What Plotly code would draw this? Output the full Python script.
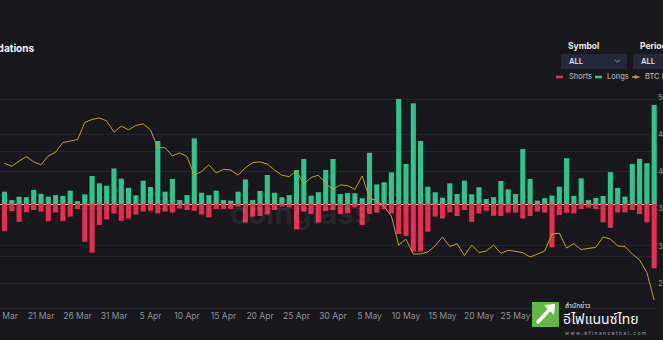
import plotly.graph_objects as go
import pandas as pd

# ---------------- data ----------------
start_date = "2022-03-16"
n_days = 90
dates = pd.date_range(start_date, periods=n_days, freq="D")

# long liquidations (million USD)
longs_musd = [
    47, 15, 28, 26, 54, 39, 28, 34, 31, 51,
    11, 37, 107, 79, 70, 136, 97, 62, 33, 89,
    65, 241, 47, 96, 15, 34, 251, 43, 34, 51,
    15, 13, 47, 94, 15, 50, 111, 43, 26, 34,
    130, 172, 32, 45, 130, 172, 38, 42, 41, 22,
    196, 75, 83, 121, 402, 153, 385, 241, 66, 45,
    24, 79, 38, 89, 37, 64, 19, 26, 88, 56,
    38, 210, 96, 13, 22, 32, 66, 175, 31, 98,
    15, 23, 31, 122, 61, 28, 153, 173, 156, 379,
]

# short liquidations (million USD, magnitude)
shorts_musd = [
    103, 27, 68, 32, 23, 29, 65, 32, 65, 48,
    19, 144, 186, 80, 59, 36, 64, 55, 40, 29,
    26, 36, 29, 33, 17, 23, 26, 40, 51, 19,
    19, 19, 10, 71, 48, 46, 40, 23, 10, 13,
    97, 29, 38, 71, 26, 23, 38, 36, 13, 80,
    38, 33, 19, 36, 115, 122, 182, 182, 106, 48,
    55, 32, 46, 23, 68, 36, 26, 45, 46, 33,
    33, 55, 46, 29, 33, 166, 42, 33, 36, 19,
    14, 19, 70, 91, 32, 32, 23, 38, 70, 246,
]

# BTC price (USD)
btc_price = [
    41100, 40700, 41400, 42000, 41300, 40900, 42100, 42600, 43900, 44100,
    44300, 46600, 47000, 47200, 46800, 45300, 46100, 45600, 46200, 46400,
    45600, 43200, 43200, 42100, 42500, 42000, 39500, 40000, 40900, 39800,
    40300, 40200, 39500, 40500, 41200, 41300, 41000, 40200, 39500, 39300,
    40100, 38300, 39200, 39500, 38400, 37600, 38200, 38100, 37600, 39400,
    36400, 36100, 35300, 34000, 30100, 30900, 28900, 28900, 29200, 30000,
    31200, 29900, 30300, 28700, 30100, 29100, 29300, 30100, 29000, 29400,
    29300, 29100, 28500, 28900, 29300, 31600, 31700, 29700, 30300, 29500,
    29700, 29800, 31200, 30900, 30000, 29900, 28900, 28100, 26400, 22700,
]

# visible date tick labels (later ones are hidden behind the logo)
date_ticks = ["2022-03-16", "2022-03-21", "2022-03-26", "2022-03-31", "2022-04-05",
              "2022-04-10", "2022-04-15", "2022-04-20", "2022-04-25", "2022-04-30",
              "2022-05-05", "2022-05-10", "2022-05-15", "2022-05-20", "2022-05-25"]
date_tick_labels = ["16 Mar", "21 Mar", "26 Mar", "31 Mar", "5 Apr",
                    "10 Apr", "15 Apr", "20 Apr", "25 Apr", "30 Apr",
                    "5 May", "10 May", "15 May", "20 May", "25 May"]
liq_ticks = [-400, -200, 0, 200, 400]
price_ticks = [25000, 30000, 35000, 40000, 45000, 50000]

# ---------------- style ----------------
BG = "#18181c"
RED = "#e72d52"
GREEN = "#2fc48c"
GOLD = "#c49a2c"
GRID = "#25252b"
TICK = "#8e8e96"
FONT = "Inter, Roboto, sans-serif"

W, H = 663, 340
L, R, T, B = 0, 6, 97, 32
PW, PH = W - L - R, H - T - B


def px(x):
    return (x - L) / PW


def py(y):
    return (H - B - y) / PH


x0 = pd.Timestamp(start_date) - pd.Timedelta(days=0.616)
x1 = x0 + pd.Timedelta(days=PW / 7.3)

fig = go.Figure()
fig.add_bar(x=dates, y=[-v for v in shorts_musd], name="Shorts",
            marker=dict(color=RED, line=dict(width=0)))
fig.add_bar(x=dates, y=longs_musd, name="Longs",
            marker=dict(color=GREEN, line=dict(width=0)))
fig.add_scatter(x=dates, y=btc_price, name="BTC Price", yaxis="y2",
                mode="lines", line=dict(color=GOLD, width=1))

fig.update_layout(
    width=W, height=H,
    margin=dict(l=L, r=R, t=T, b=B, pad=0, autoexpand=False),
    paper_bgcolor=BG, plot_bgcolor=BG,
    barmode="relative", bargap=0.3,
    showlegend=False,
    font=dict(family=FONT, color=TICK, size=9),
    xaxis=dict(
        type="date", range=[x0, x1], automargin=False,
        tickmode="array", tickvals=date_ticks, ticktext=date_tick_labels,
        ticklabeloverflow="allow",
        showgrid=False, zeroline=False,
        showline=True, linecolor=GRID, linewidth=1,
        ticks="", tickfont=dict(size=8.5, color=TICK),
    ),
    yaxis=dict(
        range=[-397.7, 409.2], tickvals=liq_ticks, automargin=False,
        showticklabels=False, ticks="",
        showgrid=True, gridcolor=GRID, gridwidth=1,
        zeroline=True, zerolinecolor="#d8cfc6", zerolinewidth=1,
    ),
    yaxis2=dict(
        overlaying="y", side="right", automargin=False,
        range=[21640, 50020], tickvals=price_ticks,
        tickprefix="$", tickformat=",", ticklabeloverflow="allow",
        showgrid=True, gridcolor=GRID, gridwidth=1,
        zeroline=False, ticks="",
        tickfont=dict(size=8, color=TICK),
    ),
)

shapes = []
annotations = []

# title (cropped on the left)
annotations.append(dict(text="<b>Liquidations</b>", x=px(36), y=py(48),
                        xref="paper", yref="paper", xanchor="right", yanchor="middle",
                        showarrow=False, font=dict(size=10, color="#f2f2f2", family=FONT)))

# coinglass watermark
annotations.append(dict(text="<b>coinglass</b>", x=px(300), y=py(213),
                        xref="paper", yref="paper", xanchor="center", yanchor="middle",
                        showarrow=False,
                        font=dict(size=30, color="rgba(255,255,255,0.07)", family=FONT)))

# dropdown selectors
for label, bx0, bx1, tx in [("Symbol", 561, 627, 566), ("Period", 633, 700, 638)]:
    annotations.append(dict(text="<b>%s</b>" % label, x=px(tx), y=py(46),
                            xref="paper", yref="paper", xanchor="left", yanchor="middle",
                            showarrow=False, font=dict(size=8.5, color="#eeeeee", family=FONT)))
    shapes.append(dict(type="rect", xref="paper", yref="paper",
                       x0=px(bx0), x1=px(bx1), y0=py(69), y1=py(54),
                       fillcolor="#242838", line=dict(width=0), layer="above"))
    annotations.append(dict(text="<b>ALL</b>", x=px(bx0 + 6), y=py(61.5),
                            xref="paper", yref="paper", xanchor="left", yanchor="middle",
                            showarrow=False, font=dict(size=7.5, color="#c4c8d6", family=FONT)))
# chevron in Symbol box
shapes.append(dict(type="path", xref="paper", yref="paper",
                   path="M %f,%f L %f,%f L %f,%f" % (px(615), py(59.8), px(617.5), py(62.3), px(620), py(59.8)),
                   line=dict(color="#8a8fa0", width=1), layer="above"))

# custom legend
leg_y = 77
shapes.append(dict(type="rect", xref="paper", yref="paper",
                   x0=px(556), x1=px(563), y0=py(78.3), y1=py(75.7),
                   fillcolor=RED, line=dict(width=0), layer="above"))
annotations.append(dict(text="Shorts", x=px(567), y=py(leg_y), xref="paper", yref="paper",
                        xanchor="left", yanchor="middle", showarrow=False,
                        font=dict(size=7.5, color="#c2c2ca", family=FONT)))
shapes.append(dict(type="rect", xref="paper", yref="paper",
                   x0=px(595), x1=px(602), y0=py(78.3), y1=py(75.7),
                   fillcolor=GREEN, line=dict(width=0), layer="above"))
annotations.append(dict(text="Longs", x=px(605), y=py(leg_y), xref="paper", yref="paper",
                        xanchor="left", yanchor="middle", showarrow=False,
                        font=dict(size=7.5, color="#c2c2ca", family=FONT)))
shapes.append(dict(type="line", xref="paper", yref="paper",
                   x0=px(632), x1=px(639.5), y0=py(leg_y), y1=py(leg_y),
                   line=dict(color=GOLD, width=1.5), layer="above"))
shapes.append(dict(type="circle", xref="paper", yref="paper",
                   x0=px(634), x1=px(637.5), y0=py(78.7), y1=py(75.3),
                   fillcolor=GOLD, line=dict(width=0), layer="above"))
annotations.append(dict(text="BTC Price", x=px(643), y=py(leg_y), xref="paper", yref="paper",
                        xanchor="left", yanchor="middle", showarrow=False,
                        font=dict(size=7.5, color="#c2c2ca", family=FONT)))

# efinancethai logo
shapes.append(dict(type="rect", xref="paper", yref="paper",
                   x0=px(532), x1=px(559), y0=py(327), y1=py(302),
                   fillcolor="#63b847", line=dict(width=0), layer="above"))
shapes.append(dict(type="line", xref="paper", yref="paper",
                   x0=px(537), y0=py(323), x1=px(551), y1=py(308),
                   line=dict(color="white", width=3.5), layer="above"))
shapes.append(dict(type="path", xref="paper", yref="paper",
                   path="M %f,%f L %f,%f L %f,%f Z" % (px(555), py(304), px(544), py(305), px(554), py(315)),
                   fillcolor="white", line=dict(width=0), layer="above"))
THAI = "Noto Sans Thai, Noto Sans, DejaVu Sans, sans-serif"
annotations.append(dict(text="สำนักข่าว", x=px(563), y=py(305.5), xref="paper", yref="paper",
                        xanchor="left", yanchor="middle", showarrow=False,
                        font=dict(size=7, color="#e8e8e8", family=THAI)))
annotations.append(dict(text="อีไฟแนนซ์ไทย", x=px(561), y=py(319.5), xref="paper", yref="paper",
                        xanchor="left", yanchor="middle", showarrow=False,
                        font=dict(size=14, color="#f4f4f4", family=THAI)))
annotations.append(dict(text="w w w . e f i n a n c e t h a i . c o m", x=px(563), y=py(333),
                        xref="paper", yref="paper", xanchor="left", yanchor="middle",
                        showarrow=False, font=dict(size=5, color="#9a9a9a", family=FONT)))

fig.update_layout(shapes=shapes, annotations=annotations)

fig.write_html("out.html")
